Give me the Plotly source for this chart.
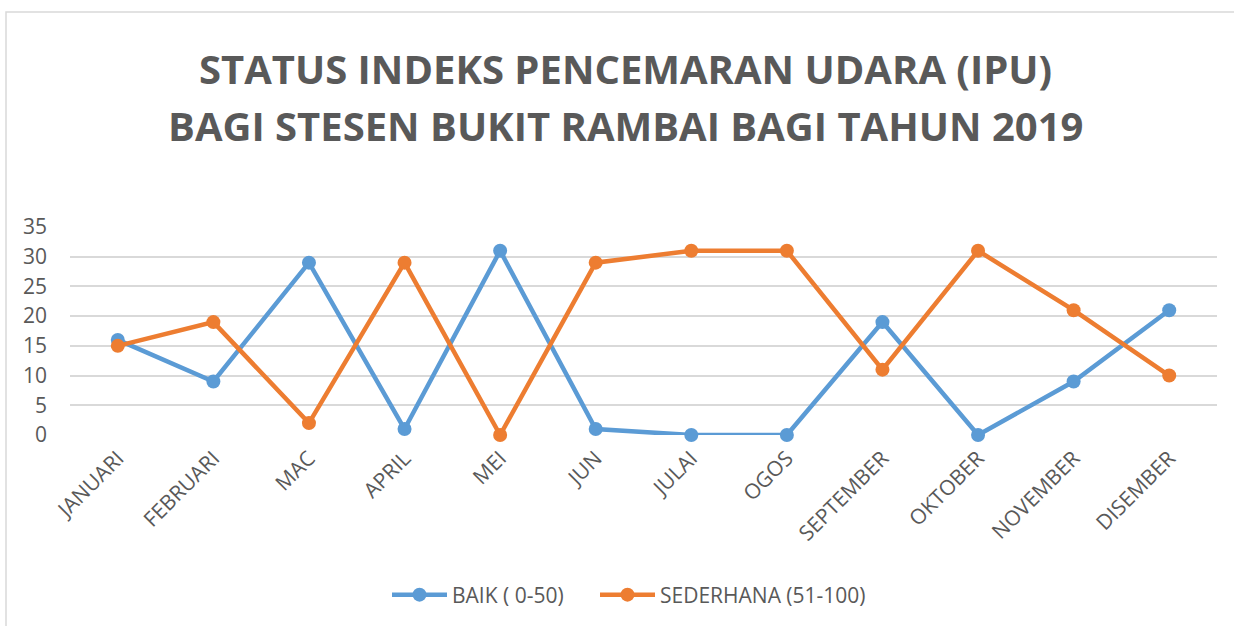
import plotly.graph_objects as go

months = ["JANUARI", "FEBRUARI", "MAC", "APRIL", "MEI", "JUN", "JULAI",
          "OGOS", "SEPTEMBER", "OKTOBER", "NOVEMBER", "DISEMBER"]
baik = [16, 9, 29, 1, 31, 1, 0, 0, 19, 0, 9, 21]
sederhana = [15, 19, 2, 29, 0, 29, 31, 31, 11, 31, 21, 10]
y_ticks = [0, 5, 10, 15, 20, 25, 30, 35]

title_lines = ["STATUS INDEKS PENCEMARAN UDARA (IPU)",
               "BAGI STESEN BUKIT RAMBAI BAGI TAHUN 2019"]

W, H = 1234, 626
L, R, T, B = 70, 17, 227, 190
pw, ph = W - L - R, H - T - B

def px(x):
    return (x - L) / pw

def py(y):
    return (H - B - y) / ph

FONT = "Open Sans"
GREY = "#595959"

fig = go.Figure()
fig.add_trace(go.Scatter(
    x=months, y=baik, name="BAIK ( 0-50)", mode="lines+markers",
    line=dict(color="#5B9BD5", width=4.5),
    marker=dict(size=14, color="#5B9BD5"), cliponaxis=False,
    legend="legend",
))
fig.add_trace(go.Scatter(
    x=months, y=sederhana, name="SEDERHANA (51-100)", mode="lines+markers",
    line=dict(color="#ED7D31", width=4.5),
    marker=dict(size=14, color="#ED7D31"), cliponaxis=False,
    legend="legend2",
))

annotations = []
for txt, yc in zip(title_lines, [68, 125]):
    annotations.append(dict(
        text=f"<b>{txt}</b>", xref="paper", yref="paper",
        x=px(W / 2 + 8), y=py(yc), xanchor="center", yanchor="middle",
        showarrow=False, font=dict(family=FONT, size=40, color=GREY),
    ))

legend_style = dict(orientation="h", xanchor="left", y=py(595),
                    yanchor="middle", itemwidth=55,
                    font=dict(family=FONT, size=21, color=GREY))

fig.update_layout(
    width=W, height=H,
    margin=dict(l=L, r=R, t=T, b=B),
    paper_bgcolor="white", plot_bgcolor="white",
    font=dict(family=FONT, size=21, color=GREY),
    showlegend=True,
    legend=dict(x=px(387), **legend_style),
    legend2=dict(x=px(595), **legend_style),
    xaxis=dict(type="category", range=[-0.5, 11.5], tickangle=-45,
               showgrid=False, showline=False, ticks="", zeroline=False,
               ticklabelstandoff=6,
               tickfont=dict(family=FONT, size=21, color=GREY)),
    yaxis=dict(range=[0, 35], tickvals=y_ticks, showgrid=True,
               gridcolor="#D9D9D9", gridwidth=1.5, zeroline=False,
               showline=False, ticks="", ticklabelstandoff=22,
               tickfont=dict(family=FONT, size=21, color=GREY)),
    annotations=annotations,
    shapes=[dict(type="rect", xref="paper", yref="paper",
                 x0=px(6), x1=px(W + 10), y0=py(H + 10), y1=py(11),
                 line=dict(color="#D9D9D9", width=1.5), layer="below")],
)

fig.write_html("out.html")
